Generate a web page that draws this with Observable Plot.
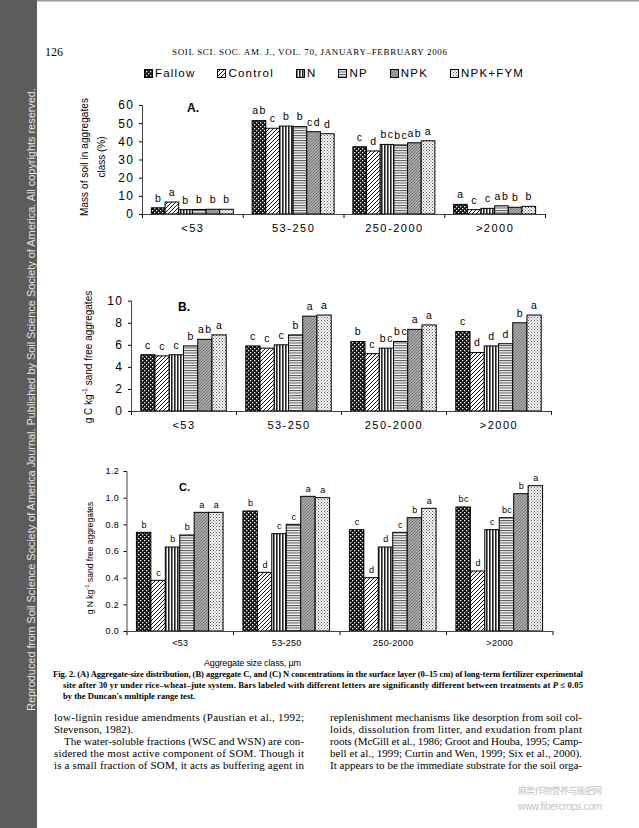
<!DOCTYPE html>
<html>
<head>
<meta charset="utf-8">
<script src="https://cdn.jsdelivr.net/npm/d3@7"></script>
<script src="https://cdn.jsdelivr.net/npm/@observablehq/plot@0.6"></script>
<style>
html, body { margin: 0; padding: 0; background: #fff; }
#page { position: relative; width: 639px; height: 828px; overflow: hidden; background: #fff; }
.panel { position: absolute; left: 0; }
#overlay { position: absolute; left: 0; top: 0; }
#legend { position: absolute; left: 144px; top: 66px; display: flex; font: 11.5px "Liberation Sans", Arial, sans-serif; letter-spacing: 1.2px; color: #000; line-height: 14px; }
#legend .item { display: flex; align-items: center; margin-right: 22px; }
#legend svg { margin-right: 2px; display: block; }
</style>
</head>
<body>
<div id="page">
<svg id="overlay" width="639" height="828" xmlns="http://www.w3.org/2000/svg">
  <defs>
    <pattern id="pFallow" patternUnits="userSpaceOnUse" width="4" height="4">
      <rect width="4" height="4" fill="#111"/>
      <rect x="0" y="0" width="1.3" height="1.3" fill="#fff"/>
      <rect x="2" y="2" width="1.3" height="1.3" fill="#fff"/>
    </pattern>
    <pattern id="pControl" patternUnits="userSpaceOnUse" width="4" height="4">
      <rect width="4" height="4" fill="#fff"/>
      <path d="M-1,1 l2,-2 M0,4 l4,-4 M3,5 l2,-2" stroke="#111" stroke-width="1"/>
    </pattern>
    <pattern id="pN" patternUnits="userSpaceOnUse" width="3" height="4">
      <rect width="3" height="4" fill="#fff"/>
      <rect width="1.6" height="4" fill="#222"/>
    </pattern>
    <pattern id="pNP" patternUnits="userSpaceOnUse" width="4" height="2.5">
      <rect width="4" height="2.5" fill="#f4f4f4"/>
      <rect width="4" height="1" fill="#555"/>
    </pattern>
    <pattern id="pNPK" patternUnits="userSpaceOnUse" width="3" height="3">
      <rect width="3" height="3" fill="#a8a8a8"/>
      <path d="M-1,1 l2,-2 M0,3 l3,-3 M2,4 l2,-2" stroke="#6a6a6a" stroke-width="0.8"/>
    </pattern>
    <pattern id="pFYM" patternUnits="userSpaceOnUse" width="3" height="3">
      <rect width="3" height="3" fill="#fff"/>
      <rect x="0" y="0" width="1" height="1" fill="#555"/>
      <rect x="1.5" y="1.5" width="1" height="1" fill="#555"/>
    </pattern>
  </defs>
  <rect x="0" y="0" width="37" height="828" fill="#5c5c5c"/>
  <rect x="37" y="0" width="602" height="1.5" fill="#9a9a9a"/>
  <text transform="translate(35,711) rotate(-90)" font-family="Liberation Sans, Arial, sans-serif" font-size="11" fill="#e2e2e2" textLength="623" lengthAdjust="spacing">Reproduced from Soil Science Society of America Journal. Published by Soil Science Society of America. All copyrights reserved.</text>
  <g font-family="Liberation Serif, Times New Roman, serif" fill="#000">
    <text x="45" y="56" font-size="12">126</text>
    <text x="172" y="55" font-size="9" textLength="275" lengthAdjust="spacing">SOIL SCI. SOC. AM. J., VOL. 70, JANUARY–FEBRUARY 2006</text>
  </g>
  <g font-family="Liberation Sans, Arial, sans-serif" fill="#000">
    <text transform="translate(84,157) rotate(-90)" text-anchor="middle" dominant-baseline="central" font-size="10" textLength="118" lengthAdjust="spacing">Mass of soil in aggregates</text>
    <text transform="translate(101,157) rotate(-90)" text-anchor="middle" dominant-baseline="central" font-size="10">class (%)</text>
    <text transform="translate(88,357) rotate(-90)" text-anchor="middle" dominant-baseline="central" font-size="10">g C kg<tspan dy="-4" font-size="7">-1</tspan><tspan dy="4"> sand free aggregates</tspan></text>
    <text transform="translate(90,558) rotate(-90)" text-anchor="middle" dominant-baseline="central" font-size="8.5">g N kg<tspan dy="-3.5" font-size="6">-1</tspan><tspan dy="3.5">  sand free aggregates</tspan></text>
    <text x="187" y="112" font-size="12" font-weight="bold">A.</text>
    <text x="178" y="311" font-size="12" font-weight="bold">B.</text>
    <text x="179" y="491" font-size="11" font-weight="bold">C.</text>
    <text x="204" y="666" font-size="9" textLength="97" lengthAdjust="spacing">Aggregate size class, µm</text>
  </g>
  <g font-family="Liberation Serif, Times New Roman, serif" fill="#000">
    <g font-size="8.6" font-weight="bold">
      <text x="53" y="677" textLength="530" lengthAdjust="spacing">Fig. 2. (A) Aggregate-size distribution, (B) aggregate C, and (C) N concentrations in the surface layer (0–15 cm) of long-term fertilizer experimental</text>
      <text x="63" y="688" textLength="520" lengthAdjust="spacing">site after 30 yr under rice–wheat–jute system. Bars labeled with different letters are significantly different between treatments at <tspan font-style="italic">P</tspan> ≤ 0.05</text>
      <text x="63" y="699">by the Duncan's multiple range test.</text>
    </g>
    <g font-size="11">
      <text x="54" y="721" textLength="250" lengthAdjust="spacing">low-lignin residue amendments (Paustian et al., 1992;</text>
      <text x="54" y="733">Stevenson, 1982).</text>
      <text x="64" y="745" textLength="240" lengthAdjust="spacing">The water-soluble fractions (WSC and WSN) are con-</text>
      <text x="54" y="757" textLength="250" lengthAdjust="spacing">sidered the most active component of SOM. Though it</text>
      <text x="54" y="769" textLength="250" lengthAdjust="spacing">is a small fraction of SOM, it acts as buffering agent in</text>
      <text x="330" y="721" textLength="252" lengthAdjust="spacing">replenishment mechanisms like desorption from soil col-</text>
      <text x="330" y="733" textLength="252" lengthAdjust="spacing">loids, dissolution from litter, and exudation from plant</text>
      <text x="330" y="745" textLength="252" lengthAdjust="spacing">roots (McGill et al., 1986; Groot and Houba, 1995; Camp-</text>
      <text x="330" y="757" textLength="252" lengthAdjust="spacing">bell et al., 1999; Curtin and Wen, 1999; Six et al., 2000).</text>
      <text x="330" y="769" textLength="252" lengthAdjust="spacing">It appears to be the immediate substrate for the soil orga-</text>
    </g>
  </g>
  <g fill="#c4c4c4">
    <text x="518" y="794" font-size="9" font-family="Noto Sans CJK SC, sans-serif" textLength="84" lengthAdjust="spacing">麻类作物营养与施肥网</text>
    <text x="518" y="810" font-size="10" font-family="Liberation Sans, Arial, sans-serif" textLength="84" lengthAdjust="spacing">www.fibercrops.com</text>
  </g>
</svg>
<div id="legend"></div>
</div>
<script>
// ---- data ----
const treatments = ["Fallow", "Control", "N", "NP", "NPK", "NPK+FYM"];
const sizeClasses = ["<53", "53-250", "250-2000", ">2000"];

// (A) mass of soil in aggregate class (%); rows = size class, columns = treatment
const massPct = [
  [3.4, 6.6, 2.4, 2.5, 2.6, 2.6],
  [51.4, 47.2, 48.4, 48.1, 45.3, 44.2],
  [37.0, 34.7, 38.3, 38.0, 39.2, 40.3],
  [5.3, 2.4, 3.1, 4.5, 3.7, 4.2]
];
const massLetters = [
  ["b", "a", "b", "b", "b", "b"],
  ["ab", "c", "b", "b", "cd", "d"],
  ["c", "d", "bc", "bc", "ab", "a"],
  ["a", "c", "c", "ab", "b", "b"]
];

// (B) aggregate C, g C kg-1 sand free aggregates
const carbon = [
  [5.1, 5.0, 5.1, 5.9, 6.5, 6.9],
  [5.9, 5.7, 6.0, 6.9, 8.6, 8.7],
  [6.3, 5.2, 5.7, 6.3, 7.4, 7.8],
  [7.2, 5.3, 5.9, 6.1, 8.0, 8.7]
];
const carbonLetters = [
  ["c", "c", "c", "b", "ab", "a"],
  ["c", "c", "c", "b", "a", "a"],
  ["b", "c", "bc", "bc", "a", "a"],
  ["c", "d", "d", "d", "b", "a"]
];

// (C) aggregate N, g N kg-1 sand free aggregates
const nitrogen = [
  [0.74, 0.38, 0.63, 0.72, 0.89, 0.89],
  [0.90, 0.44, 0.73, 0.80, 1.01, 1.00],
  [0.76, 0.40, 0.63, 0.74, 0.85, 0.92],
  [0.93, 0.45, 0.76, 0.85, 1.03, 1.09]
];
const nitrogenLetters = [
  ["b", "c", "b", "b", "a", "a"],
  ["b", "d", "c", "c", "a", "a"],
  ["c", "d", "d", "c", "b", "a"],
  ["bc", "d", "c", "bc", "b", "a"]
];

const ticksA = [0, 10, 20, 30, 40, 50, 60];
const ticksB = [0, 2, 4, 6, 8, 10];
const ticksC = [0, 0.2, 0.4, 0.6, 0.8, 1.0, 1.2];

// ---- styling ----
const patterns = ["url(#pFallow)", "url(#pControl)", "url(#pN)", "url(#pNP)", "url(#pNPK)", "url(#pFYM)"];
const FONT = "Liberation Sans, Arial, sans-serif";
const BW = 0.1356; // bar width as fraction of a size-class band

function rows(values, letters) {
  return sizeClasses.flatMap((s, gi) => treatments.map((t, ti) => ({
    size: s, gi, ti, treatment: t, value: values[gi][ti], letter: letters[gi][ti]
  })));
}

function panel(o) {
  const data = rows(o.values, o.letters);
  const x1 = d => d.gi + 0.5 + (d.ti - 3) * BW;
  const x2 = d => x1(d) + BW;
  const xc = d => x1(d) + BW / 2;
  const svg = Plot.plot({
    width: 639,
    height: o.height,
    marginTop: o.mt, marginBottom: o.mb, marginLeft: o.ml, marginRight: o.mr,
    style: {background: "none", overflow: "visible", fontFamily: FONT, fontSize: o.tickFont + "px", letterSpacing: o.ls + "px", color: "#000"},
    x: {domain: [0, sizeClasses.length], ticks: d3.range(sizeClasses.length + 1), tickFormat: () => "", tickSize: 4, label: null},
    y: {domain: [o.ticks[0], o.ticks[o.ticks.length - 1]], ticks: o.ticks, tickFormat: o.fmt, tickSize: 3, tickPadding: o.tp, label: null},
    color: {domain: treatments, range: patterns},
    marks: [
      Plot.rect(data, {x1, x2, y1: 0, y2: "value", fill: "treatment", stroke: "#000", strokeWidth: 1}),
      Plot.ruleY([0], {stroke: "#444"}),
      Plot.ruleX([0], {stroke: "#444"}),
      Plot.text(data, {x: xc, y: "value", text: "letter", dy: o.letterDy, fontSize: o.letterFont, fill: "#000"}),
      Plot.text(sizeClasses, {x: (d, i) => i + 0.5, y: 0, text: d => d, dy: o.labelDy, fontSize: o.labelFont, fill: "#000"})
    ]
  });
  svg.classList.add("panel");
  svg.style.top = o.top + "px";
  return svg;
}

const page = document.getElementById("page");
const overlay = document.getElementById("overlay");

page.appendChild(panel({values: massPct, letters: massLetters, ticks: ticksA, fmt: d3.format("d"),
  top: 90, height: 154, mt: 15, mb: 30, ml: 142, mr: 94, tickFont: 12, ls: 1.5, tp: 5,
  letterFont: 10.5, letterDy: -10, labelFont: 11, labelDy: 14}));
page.appendChild(panel({values: carbon, letters: carbonLetters, ticks: ticksB, fmt: d3.format("d"),
  top: 290, height: 151, mt: 10.7, mb: 30, ml: 131, mr: 88, tickFont: 12, ls: 1.5, tp: 5,
  letterFont: 10.5, letterDy: -10, labelFont: 11, labelDy: 14}));
page.appendChild(panel({values: nitrogen, letters: nitrogenLetters, ticks: ticksC, fmt: d3.format(".1f"),
  top: 460, height: 201, mt: 11, mb: 30, ml: 126.5, mr: 86.5, tickFont: 9, ls: 0.3, tp: 5,
  letterFont: 9, letterDy: -8, labelFont: 9, labelDy: 12}));

page.appendChild(overlay);

// legend
const legend = document.getElementById("legend");
treatments.forEach((t, i) => {
  const item = document.createElement("div");
  item.className = "item";
  item.innerHTML = `<svg width="9" height="9"><rect x="0.5" y="0.5" width="8" height="8" fill="${patterns[i]}" stroke="#000" stroke-width="1"/></svg><span>${t}</span>`;
  legend.appendChild(item);
});
page.appendChild(legend);
</script>
</body>
</html>
